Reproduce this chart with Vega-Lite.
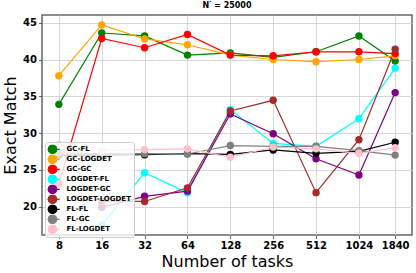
{
  "$schema": "https://vega.github.io/schema/vega-lite/v6.json",
  "width": 370,
  "height": 220,
  "autosize": {"type": "none"},
  "padding": {"left": 42, "top": 15, "right": 4, "bottom": 38},
  "background": "white",
  "title": {"text": "N′ = 25000", "fontSize": 8, "fontWeight": "bold", "font": "DejaVu Sans", "offset": 5, "color": "black"},
  "config": {
    "view": {"stroke": "#666666", "strokeWidth": 1.5},
    "axis": {
      "grid": true, "gridColor": "#cccccc", "gridWidth": 0.8, "domain": false,
      "tickColor": "#444444", "tickSize": 3.5, "tickWidth": 0.8, "labelPadding": 2,
      "labelFontSize": 10, "labelFontWeight": "bold", "labelFont": "DejaVu Sans", "labelColor": "black",
      "titleFont": "DejaVu Sans", "titleFontSize": 16, "titleFontWeight": "normal", "titleColor": "black"
    }
  },
  "data": {"values": [
    {"s":"GC-FL","n":8,"v":33.9},{"s":"GC-FL","n":16,"v":43.6},{"s":"GC-FL","n":32,"v":43.2},{"s":"GC-FL","n":64,"v":40.6},{"s":"GC-FL","n":128,"v":40.9},{"s":"GC-FL","n":256,"v":40.3},{"s":"GC-FL","n":512,"v":41.05},{"s":"GC-FL","n":1024,"v":43.2},{"s":"GC-FL","n":1840,"v":39.8},
    {"s":"GC-LOGDET","n":8,"v":37.8},{"s":"GC-LOGDET","n":16,"v":44.7},{"s":"GC-LOGDET","n":32,"v":42.8},{"s":"GC-LOGDET","n":64,"v":42.0},{"s":"GC-LOGDET","n":128,"v":40.6},{"s":"GC-LOGDET","n":256,"v":40.0},{"s":"GC-LOGDET","n":512,"v":39.7},{"s":"GC-LOGDET","n":1024,"v":40.0},{"s":"GC-LOGDET","n":1840,"v":40.5},
    {"s":"GC-GC","n":8,"v":23.1},{"s":"GC-GC","n":16,"v":42.85},{"s":"GC-GC","n":32,"v":41.6},{"s":"GC-GC","n":64,"v":43.4},{"s":"GC-GC","n":128,"v":40.6},{"s":"GC-GC","n":256,"v":40.5},{"s":"GC-GC","n":512,"v":41.05},{"s":"GC-GC","n":1024,"v":41.05},{"s":"GC-GC","n":1840,"v":40.8},
    {"s":"LOGDET-FL","n":16,"v":17.5},{"s":"LOGDET-FL","n":32,"v":24.6},{"s":"LOGDET-FL","n":64,"v":21.9},{"s":"LOGDET-FL","n":128,"v":33.2},{"s":"LOGDET-FL","n":256,"v":28.6},{"s":"LOGDET-FL","n":512,"v":28.2},{"s":"LOGDET-FL","n":1024,"v":31.95},{"s":"LOGDET-FL","n":1840,"v":38.8},
    {"s":"LOGDET-GC","n":16,"v":19.9},{"s":"LOGDET-GC","n":32,"v":21.4},{"s":"LOGDET-GC","n":64,"v":22.1},{"s":"LOGDET-GC","n":128,"v":32.6},{"s":"LOGDET-GC","n":256,"v":29.9},{"s":"LOGDET-GC","n":512,"v":26.5},{"s":"LOGDET-GC","n":1024,"v":24.3},{"s":"LOGDET-GC","n":1840,"v":35.5},
    {"s":"LOGDET-LOGDET","n":16,"v":20.7},{"s":"LOGDET-LOGDET","n":32,"v":20.7},{"s":"LOGDET-LOGDET","n":64,"v":22.55},{"s":"LOGDET-LOGDET","n":128,"v":33.0},{"s":"LOGDET-LOGDET","n":256,"v":34.45},{"s":"LOGDET-LOGDET","n":512,"v":21.9},{"s":"LOGDET-LOGDET","n":1024,"v":29.1},{"s":"LOGDET-LOGDET","n":1840,"v":41.4},
    {"s":"FL-FL","n":8,"v":27.0},{"s":"FL-FL","n":16,"v":27.0},{"s":"FL-FL","n":32,"v":27.05},{"s":"FL-FL","n":64,"v":27.2},{"s":"FL-FL","n":128,"v":27.1},{"s":"FL-FL","n":256,"v":27.7},{"s":"FL-FL","n":512,"v":27.25},{"s":"FL-FL","n":1024,"v":27.5},{"s":"FL-FL","n":1840,"v":28.75},
    {"s":"FL-GC","n":8,"v":27.3},{"s":"FL-GC","n":16,"v":27.2},{"s":"FL-GC","n":32,"v":27.2},{"s":"FL-GC","n":64,"v":27.15},{"s":"FL-GC","n":128,"v":28.3},{"s":"FL-GC","n":256,"v":28.2},{"s":"FL-GC","n":512,"v":28.2},{"s":"FL-GC","n":1024,"v":27.6},{"s":"FL-GC","n":1840,"v":27.0},
    {"s":"FL-LOGDET","n":8,"v":28.4},{"s":"FL-LOGDET","n":16,"v":27.6},{"s":"FL-LOGDET","n":32,"v":27.75},{"s":"FL-LOGDET","n":64,"v":27.85},{"s":"FL-LOGDET","n":128,"v":26.7},{"s":"FL-LOGDET","n":256,"v":28.1},{"s":"FL-LOGDET","n":512,"v":27.85},{"s":"FL-LOGDET","n":1024,"v":27.25},{"s":"FL-LOGDET","n":1840,"v":28.0}
  ]},
  "encoding": {
    "x": {"field": "n", "type": "quantitative", "title": "Number of tasks",
      "scale": {"type": "log", "base": 2, "domain": [6.09, 2416], "nice": false},
      "axis": {"values": [8,16,32,64,128,256,512,1024,1840], "format": "d", "titlePadding": 3}},
    "y": {"field": "v", "type": "quantitative", "title": "Exact Match",
      "scale": {"domain": [16.14, 46.05], "nice": false, "zero": false},
      "axis": {"values": [20,25,30,35,40,45], "titlePadding": 4}},
    "color": {"field": "s", "type": "nominal",
      "scale": {"domain": ["GC-FL","GC-LOGDET","GC-GC","LOGDET-FL","LOGDET-GC","LOGDET-LOGDET","FL-FL","FL-GC","FL-LOGDET"],
        "range": ["#008000","#ffa500","#ff0000","#00ffff","#800080","#a52a2a","#000000","#808080","#ffc0cb"]},
      "legend": {
        "orient": "none", "legendX": 3, "legendY": 127, "title": null,
        "symbolType": "M-1.77,0H-1.06M1.06,0H1.77M1.06,0L0.918,0.53L0.53,0.918L0,1.06L-0.53,0.918L-0.918,0.53L-1.06,0L-0.918,-0.53L-0.53,-0.918L0,-1.06L0.53,-0.918L0.918,-0.53Z",
        "symbolSize": 66, "symbolStrokeWidth": 1.2, "labelFontSize": 7, "labelFontWeight": "bold",
        "labelFont": "DejaVu Sans", "labelColor": "black", "labelOffset": 9, "rowPadding": 0, "padding": 2.5,
        "clipHeight": 9.6,
        "fillColor": "rgba(255,255,255,0.8)", "strokeColor": "#cccccc", "cornerRadius": 2, "symbolOpacity": 1,
        "encode": {"symbols": {"update": {"fill": {"scale": "color", "field": "value"}, "stroke": {"scale": "color", "field": "value"}}}}
      }}
  },
  "layer": [
    {"mark": {"type": "line", "strokeWidth": 1.2}, "encoding": {"order": {"field": "n"}}},
    {"mark": {"type": "point", "filled": true, "size": 55, "opacity": 1, "shape": "circle"}}
  ]
}
